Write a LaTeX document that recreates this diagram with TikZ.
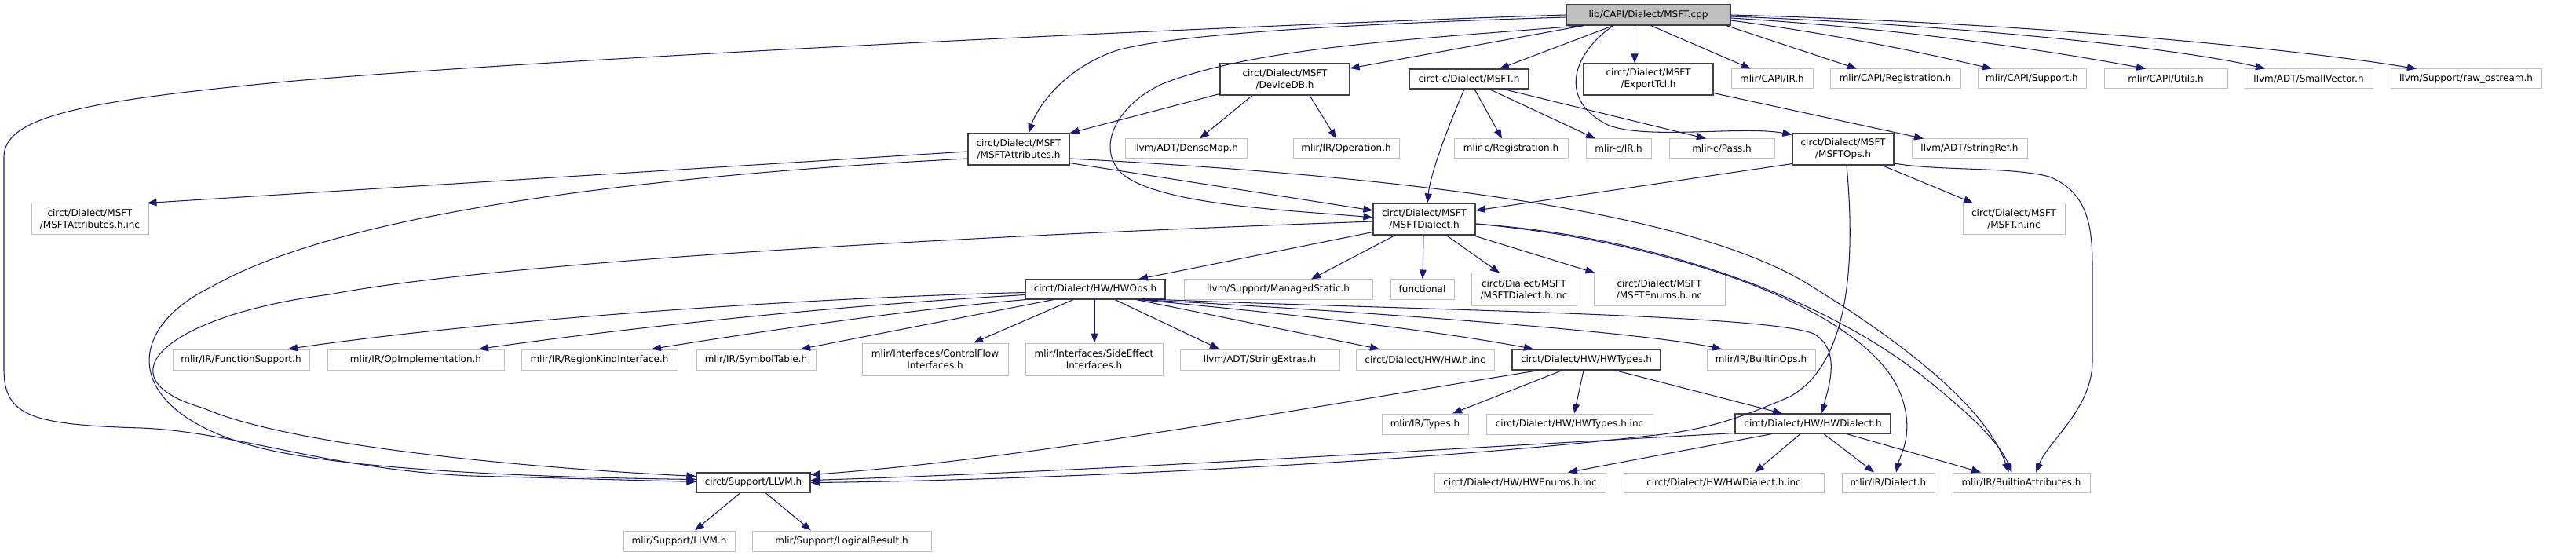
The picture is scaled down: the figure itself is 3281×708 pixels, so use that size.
\documentclass[tikz,border=0pt]{standalone}
\usepackage{fontspec}
\newfontfamily\dvs{DejaVu Sans}
\usetikzlibrary{arrows.meta,calc}
\definecolor{edgeblue}{RGB}{25,25,112}
\definecolor{extgray}{RGB}{191,191,191}
\definecolor{hdrgray}{RGB}{64,64,64}
\tikzset{
  base/.style={rectangle, inner sep=0pt, align=center, text=black, font={\dvs\fontsize{12}{15}\selectfont}},
  sz/.style 2 args={minimum width=#1pt, minimum height=#2pt},
  hdr/.style={base, draw=hdrgray, fill=white, line width=1.1pt},
  ext/.style={base, draw=extgray, fill=white, line width=1pt},
  rootbox/.style={base, draw=hdrgray, fill=extgray, line width=1.1pt},
  edge/.style={draw=edgeblue, line width=1.05pt, -{Triangle[length=12pt,width=9pt]}},
}
\begin{document}
\begin{tikzpicture}[x=1pt,y=-1pt]
\fill[white] (0,0) rectangle (3281,708);
\useasboundingbox (0,0) rectangle (3281,708);
% row 1
\node[rootbox, sz={209}{26}] (root) at (2099.5,19) {lib/CAPI/Dialect/MSFT.cpp};
% row 2
\node[hdr, sz={165}{40}] (dev) at (1636.5,101) {circt/Dialect/MSFT\\/DeviceDB.h};
\node[hdr, sz={152}{25}] (capimsft) at (1871,100.5) {circt-c/Dialect/MSFT.h};
\node[hdr, sz={165}{40}] (tcl) at (2099.5,101) {circt/Dialect/MSFT\\/ExportTcl.h};
\node[ext, sz={104}{25}] (capiir) at (2257,100.5) {mlir/CAPI/IR.h};
\node[ext, sz={166}{25}] (capireg) at (2414,100.5) {mlir/CAPI/Registration.h};
\node[ext, sz={138}{25}] (capisup) at (2588,100.5) {mlir/CAPI/Support.h};
\node[ext, sz={157}{25}] (capiutil) at (2758.5,100.5) {mlir/CAPI/Utils.h};
\node[ext, sz={163}{25}] (smallvec) at (2940.5,100.5) {llvm/ADT/SmallVector.h};
\node[ext, sz={192}{25}] (rawos) at (3141,100.5) {llvm/Support/raw\_ostream.h};
% row 3
\node[hdr, sz={129}{40}] (attr) at (1297.5,190) {circt/Dialect/MSFT\\/MSFTAttributes.h};
\node[ext, sz={149}{40}] (attrinc) at (114.5,279) {circt/Dialect/MSFT\\/MSFTAttributes.h.inc};
\node[ext, sz={155}{25}] (densemap) at (1510.5,189.5) {llvm/ADT/DenseMap.h};
\node[ext, sz={135}{25}] (operation) at (1714.5,189.5) {mlir/IR/Operation.h};
\node[ext, sz={145}{25}] (creg) at (1924.5,189.5) {mlir-c/Registration.h};
\node[ext, sz={83}{25}] (cir) at (2061.5,189.5) {mlir-c/IR.h};
\node[ext, sz={134}{25}] (cpass) at (2193,189.5) {mlir-c/Pass.h};
\node[hdr, sz={129}{40}] (ops) at (2347.5,190) {circt/Dialect/MSFT\\/MSFTOps.h};
\node[ext, sz={147}{25}] (stringref) at (2508.5,189.5) {llvm/ADT/StringRef.h};
% row 4
\node[hdr, sz={130}{40}] (dialect) at (1814,279) {circt/Dialect/MSFT\\/MSFTDialect.h};
\node[ext, sz={130}{40}] (msftinc) at (2565,279) {circt/Dialect/MSFT\\/MSFT.h.inc};
% row 5
\node[hdr, sz={178}{25}] (hwops) at (1395,368.5) {circt/Dialect/HW/HWOps.h};
\node[ext, sz={240}{25}] (managed) at (1628,368.5) {llvm/Support/ManagedStatic.h};
\node[ext, sz={81}{25}] (functional) at (1811.5,368.5) {functional};
\node[ext, sz={134}{41}] (dialinc) at (1941,368.5) {circt/Dialect/MSFT\\/MSFTDialect.h.inc};
\node[ext, sz={167}{41}] (enums) at (2113.5,368.5) {circt/Dialect/MSFT\\/MSFTEnums.h.inc};
% row 6
\node[ext, sz={174}{26}] (funcsup) at (307,458) {mlir/IR/FunctionSupport.h};
\node[ext, sz={225}{26}] (opimpl) at (529.5,458) {mlir/IR/OpImplementation.h};
\node[ext, sz={199}{26}] (regionkind) at (763.5,458) {mlir/IR/RegionKindInterface.h};
\node[ext, sz={152}{26}] (symtab) at (963,458) {mlir/IR/SymbolTable.h};
\node[ext, sz={186}{41}] (cflow) at (1191,457.5) {mlir/Interfaces/ControlFlow\\Interfaces.h};
\node[ext, sz={175}{41}] (sideeff) at (1393.5,457.5) {mlir/Interfaces/SideEffect\\Interfaces.h};
\node[ext, sz={203}{26}] (strext) at (1604.5,458) {llvm/ADT/StringExtras.h};
\node[ext, sz={176}{26}] (hwinc) at (1815,458) {circt/Dialect/HW/HW.h.inc};
\node[hdr, sz={189}{26}] (hwtypes) at (2020.5,458) {circt/Dialect/HW/HWTypes.h};
\node[ext, sz={138}{26}] (builtinops) at (2243,458) {mlir/IR/BuiltinOps.h};
% row 7
\node[ext, sz={110}{26}] (types) at (1815,540) {mlir/IR/Types.h};
\node[ext, sz={212}{26}] (hwtypesinc) at (1999,540) {circt/Dialect/HW/HWTypes.h.inc};
\node[hdr, sz={198}{25}] (hwdialect) at (2309,539.5) {circt/Dialect/HW/HWDialect.h};
% row 8
\node[hdr, sz={145}{25}] (llvm) at (959.5,614.5) {circt/Support/LLVM.h};
\node[ext, sz={218}{25}] (hwenums) at (1936,614.5) {circt/Dialect/HW/HWEnums.h.inc};
\node[ext, sz={255}{25}] (hwdialinc) at (2195.5,614.5) {circt/Dialect/HW/HWDialect.h.inc};
\node[ext, sz={118}{25}] (irdialect) at (2405,614.5) {mlir/IR/Dialect.h};
\node[ext, sz={175}{25}] (battr) at (2574.5,614.5) {mlir/IR/BuiltinAttributes.h};
% row 9
\node[ext, sz={142}{26}] (mllvm) at (865,689) {mlir/Support/LLVM.h};
\node[ext, sz={228}{26}] (logres) at (1072,689) {mlir/Support/LogicalResult.h};

% ---------- edges from root
\draw[edge] (root.west) .. controls (1500,35) and (600,80) .. (333,107) .. controls (100,130) and (5,150) .. (5,200) -- (5,470) .. controls (5,530) and (40,541) .. (180,545) .. controls (300,550) and (420,598) .. (600,606) -- ($(llvm.west)+(0,-1)$);
\draw[edge] ($(root.west)+(0,3)$) .. controls (1800,28) and (1500,40) .. (1420,65) .. controls (1350,90) and (1320,140) .. ($(attr.north)+(12.5,0)$);
\draw[edge] ($(root.south west)+(23,0)$) .. controls (1800,50) and (1600,60) .. (1480,107) .. controls (1420,135) and (1395,190) .. (1430,222) .. controls (1480,262) and (1650,268) .. ($(dialect.west)+(0,-2)$);
\draw[edge] ($(root.south west)+(23,0)$) -- ($(dev.east)+(0,-14)$);
\draw[edge] ($(root.south)+(-44.5,0)$) -- ($(capimsft.north)+(39,0)$);
\draw[edge] ($(root.south)+(-44.5,0)$) .. controls (2000,70) and (1985,130) .. (2050,160) .. controls (2100,178) and (2220,160) .. ($(ops.north west)+(0,2)$);
\draw[edge] ($(root.south)+(-17.5,0)$) -- ($(tcl.north)+(-17.5,0)$);
\draw[edge] ($(root.south)+(3,0)$) -- ($(capiir.north)+(-27,0)$);
\draw[edge] ($(root.south east)+(-6,0)$) -- ($(capireg.north)+(-49,0)$);
\draw[edge] ($(root.east)+(0,7)$) .. controls (2350,45) and (2470,72) .. ($(capisup.north)+(-51,0)$);
\draw[edge] ($(root.east)+(0,4)$) .. controls (2450,38) and (2640,70) .. ($(capiutil.north)+(-25.5,0)$);
\draw[edge] ($(root.east)+(0,2)$) .. controls (2500,32) and (2780,62) .. ($(smallvec.north)+(-55.5,0)$);
\draw[edge] (root.east) .. controls (2600,30) and (2920,62) .. ($(rawos.north)+(-63,0)$);
% ---------- DeviceDB
\draw[edge] ($(dev.south west)+(0,-2)$) -- (attr.north east);
\draw[edge] ($(dev.south)+(-41.5,0)$) -- ($(densemap.north)+(17.5,0)$);
\draw[edge] ($(dev.south)+(31.5,0)$) -- ($(operation.north)+(-12.5,0)$);
% ---------- circt-c MSFT.h
\draw[edge] ($(capimsft.south)+(-6,0)$) .. controls (1845,160) and (1822,220) .. ($(dialect.north)+(4,0)$);
\draw[edge] ($(capimsft.south)+(7,0)$) -- ($(creg.north)+(-11.5,0)$);
\draw[edge] ($(capimsft.south)+(26,0)$) -- ($(cir.north)+(-29.5,0)$);
\draw[edge] ($(capimsft.south)+(44,0)$) -- ($(cpass.north)+(-20,0)$);
% ---------- ExportTcl
\draw[edge] ($(tcl.south east)+(0,-3)$) -- ($(stringref.north)+(-58.5,0)$);
% ---------- MSFTAttributes
\draw[edge] ($(attr.west)+(0,3)$) -- ($(attrinc.north east)+(-2,0)$);
\draw[edge] ($(attr.west)+(0,12)$) .. controls (700,230) and (400,290) .. (270,365) .. controls (155,420) and (155,525) .. (330,570) .. controls (450,600) and (700,608) .. ($(llvm.west)+(0,-4)$);
\draw[edge] ($(attr.south east)+(0,-3)$) -- ($(dialect.west)+(0,-11)$);
\draw[edge] ($(attr.east)+(0,12)$) .. controls (1800,225) and (2150,270) .. (2300,360) .. controls (2430,440) and (2530,520) .. ($(battr.north)+(-16,0)$);
% ---------- MSFTDialect
\draw[edge] ($(dialect.south west)+(0,-4)$) -- ($(hwops.north)+(55,0)$);
\draw[edge] ($(dialect.south)+(-37,0)$) -- ($(managed.north)+(42,0)$);
\draw[edge] ($(dialect.south)+(-1,0)$) -- ($(functional.north)+(0.5,0)$);
\draw[edge] ($(dialect.south)+(28,0)$) -- ($(dialinc.north)+(-31,0)$);
\draw[edge] ($(dialect.south east)+(-4,0)$) -- ($(enums.north west)+(2,0)$);
\draw[edge] ($(dialect.west)+(0,3)$) .. controls (1100,305) and (600,340) .. (420,375) .. controls (220,400) and (120,480) .. (260,520) .. controls (350,560) and (600,592) .. ($(llvm.west)+(0,-8)$);
\draw[edge] ($(dialect.east)+(0,6)$) .. controls (2150,310) and (2380,400) .. (2420,500) .. controls (2440,550) and (2420,580) .. ($(irdialect.north)+(10,0)$);
\draw[edge] ($(dialect.east)+(0,6)$) .. controls (2150,305) and (2350,400) .. (2450,480) .. controls (2500,520) and (2545,560) .. ($(battr.north)+(-12,0)$);
% ---------- MSFTOps
\draw[edge] ($(ops.south west)+(0,-2)$) -- ($(dialect.east)+(0,-11)$);
\draw[edge] ($(ops.south)+(49.5,0)$) -- ($(msftinc.north)+(-52,0)$);
\draw[edge] ($(ops.south)+(4.5,0)$) .. controls (2362,320) and (2360,460) .. (2280,505) .. controls (2210,535) and (2170,548) .. (2100,555) .. controls (1800,590) and (1300,612) .. (llvm.east);
\draw[edge] ($(ops.east)+(0,18)$) .. controls (2470,218) and (2560,212) .. (2610,225) .. controls (2660,245) and (2665,290) .. (2665,340) -- (2665,460) .. controls (2665,520) and (2610,560) .. ($(battr.north)+(18.5,0)$);
% ---------- HWOps
\draw[edge] ($(hwops.west)+(0,4)$) .. controls (1000,380) and (600,410) .. ($(funcsup.north)+(60,0)$);
\draw[edge] ($(hwops.west)+(0,7)$) .. controls (1050,390) and (780,420) .. ($(opimpl.north)+(80.5,0)$);
\draw[edge] ($(hwops.south west)+(1,0)$) .. controls (1150,395) and (950,425) .. ($(regionkind.north)+(66.5,0)$);
\draw[edge] ($(hwops.south)+(-53,0)$) -- ($(symtab.north)+(57,0)$);
\draw[edge] ($(hwops.south)+(-28,0)$) -- ($(cflow.north)+(49,0)$);
\draw[edge] ($(hwops.south)+(-1,0)$) -- ($(sideeff.north)+(0.5,0)$);
\draw[edge] ($(hwops.south)+(25,0)$) -- ($(strext.north)+(-51.5,0)$);
\draw[edge] ($(hwops.south)+(52,0)$) -- ($(hwinc.north)+(-58,0)$);
\draw[edge] ($(hwops.south)+(55,0)$) .. controls (1700,405) and (1850,425) .. ($(hwtypes.north)+(-67.5,0)$);
\draw[edge] ($(hwops.south)+(57,0)$) .. controls (1800,400) and (2100,425) .. ($(builtinops.north)+(-50,0)$);
\draw[edge] ($(hwops.south)+(59,-1)$) .. controls (1800,395) and (2250,400) .. (2310,425) .. controls (2345,445) and (2330,490) .. ($(hwdialect.north)+(11,0)$);
% ---------- HWTypes
\draw[edge] ($(hwtypes.south)+(-60.5,0)$) .. controls (1600,530) and (1300,585) .. ($(llvm.east)+(0,-10)$);
\draw[edge] ($(hwtypes.south)+(-30.5,0)$) -- ($(types.north)+(35,0)$);
\draw[edge] ($(hwtypes.south)+(-3.5,0)$) -- ($(hwtypesinc.north)+(6,0)$);
\draw[edge] ($(hwtypes.south)+(36.5,0)$) -- ($(hwdialect.north)+(-39,0)$);
% ---------- HWDialect
\draw[edge] ($(hwdialect.south west)+(0,-1)$) .. controls (1900,568) and (1400,600) .. ($(llvm.east)+(0,-3)$);
\draw[edge] ($(hwdialect.south)+(-52,0)$) -- ($(hwenums.north)+(61,0)$);
\draw[edge] ($(hwdialect.south)+(-16,0)$) -- ($(hwdialinc.north)+(39.5,0)$);
\draw[edge] ($(hwdialect.south)+(14,0)$) -- ($(irdialect.north)+(-18,0)$);
\draw[edge] ($(hwdialect.south)+(43,0)$) -- ($(battr.north)+(-51.5,0)$);
% ---------- circt/Support/LLVM.h
\draw[edge] ($(llvm.south)+(-16.5,0)$) -- ($(mllvm.north)+(20,0)$);
\draw[edge] ($(llvm.south)+(15.5,0)$) -- ($(logres.north)+(-39,0)$);
\end{tikzpicture}
\end{document}
